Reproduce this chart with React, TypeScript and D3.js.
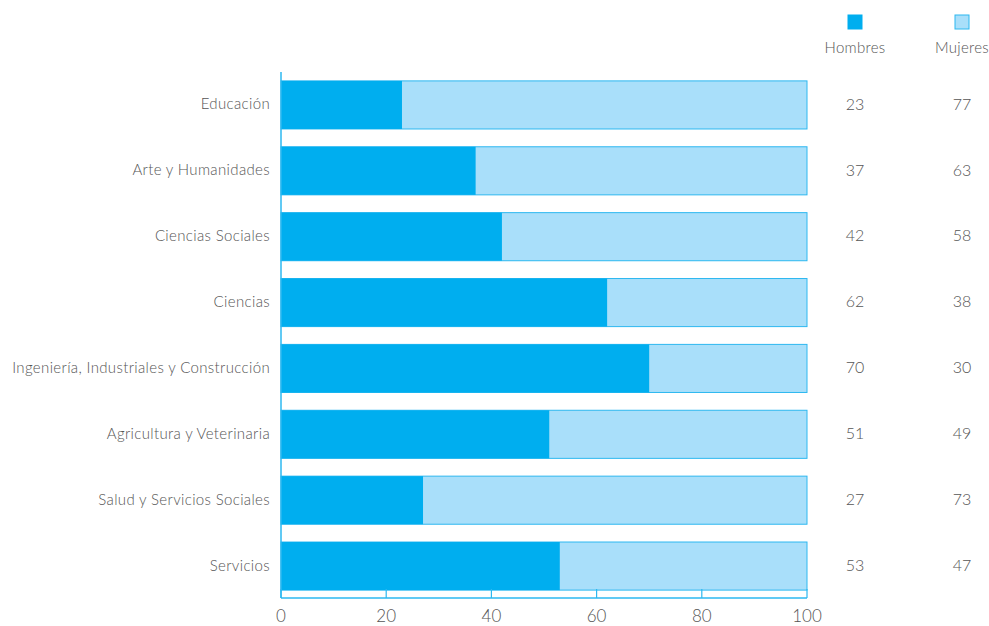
import React from "react";
import * as d3 from "d3";

const categories = [
  "Educación",
  "Arte y Humanidades",
  "Ciencias Sociales",
  "Ciencias",
  "Ingeniería, Industriales y Construcción",
  "Agricultura y Veterinaria",
  "Salud y Servicios Sociales",
  "Servicios",
];
const hombres = [23, 37, 42, 62, 70, 51, 27, 53];
const mujeres = [77, 63, 58, 38, 30, 49, 73, 47];
const seriesNames = ["Hombres", "Mujeres"];
const xTicks = [0, 20, 40, 60, 80, 100];

const W = 989;
const H = 626;
const DARK = "#00AEEF";
const LIGHT = "#A9DFFA";
const STROKE = "#2DB8F0";
const TEXT = "#555555";
const FONT = "Lato, 'DejaVu Sans', sans-serif";

export default function App() {
  const x = d3.scaleLinear().domain([0, 100]).range([281, 807]);
  const y = d3.scaleBand<string>().domain(categories).range([72, 599]).paddingInner(0.27).paddingOuter(0.135);
  const axisY = 598;
  const colH = 855;
  const colM = 962;

  return (
    <svg width={W} height={H} style={{ position: "absolute", left: 0, top: 0, background: "#fff" }} fontFamily={FONT}>
      {/* legend */}
      {seriesNames.map((s, i) => {
        const cx = i === 0 ? colH : colM;
        return (
          <g key={s}>
            <rect x={cx - 7} y={15} width={14} height={14} fill={i === 0 ? DARK : LIGHT} stroke={i === 0 ? DARK : STROKE} strokeWidth={1} />
            <text x={cx} y={53} textAnchor="middle" fontSize={15} fontWeight={300} letterSpacing={0.3} fill={TEXT}>{s}</text>
          </g>
        );
      })}
      {/* bars */}
      {categories.map((c, i) => {
        const y0 = y(c)!;
        const bh = y.bandwidth();
        return (
          <g key={c}>
            <rect x={x(0)} y={y0} width={x(100) - x(0)} height={bh} fill={LIGHT} stroke={STROKE} strokeWidth={1} />
            <rect x={x(0)} y={y0} width={x(hombres[i]) - x(0)} height={bh} fill={DARK} />
            <text x={270} y={y0 + bh / 2} dy="0.3em" textAnchor="end" fontSize={15} fontWeight={300} letterSpacing={0.35} fill={TEXT}>{c}</text>
            <text x={colH} y={y0 + bh / 2} dy="0.3em" textAnchor="middle" fontSize={16} fontWeight={300} fill={TEXT}>{hombres[i]}</text>
            <text x={colM} y={y0 + bh / 2} dy="0.3em" textAnchor="middle" fontSize={16} fontWeight={300} fill={TEXT}>{mujeres[i]}</text>
          </g>
        );
      })}
      {/* y axis line */}
      <line x1={x(0)} x2={x(0)} y1={72} y2={axisY} stroke={STROKE} strokeWidth={1.5} />
      {/* x axis */}
      <line x1={x(0)} x2={x(100)} y1={axisY} y2={axisY} stroke={STROKE} strokeWidth={1.5} />
      {xTicks.map((t) => (
        <g key={t}>
          <line x1={x(t)} x2={x(t)} y1={axisY - 9} y2={axisY} stroke={STROKE} strokeWidth={1.2} />
          <text x={x(t)} y={622} textAnchor="middle" fontSize={17} fontWeight={300} fill={TEXT}>{t}</text>
        </g>
      ))}
    </svg>
  );
}
